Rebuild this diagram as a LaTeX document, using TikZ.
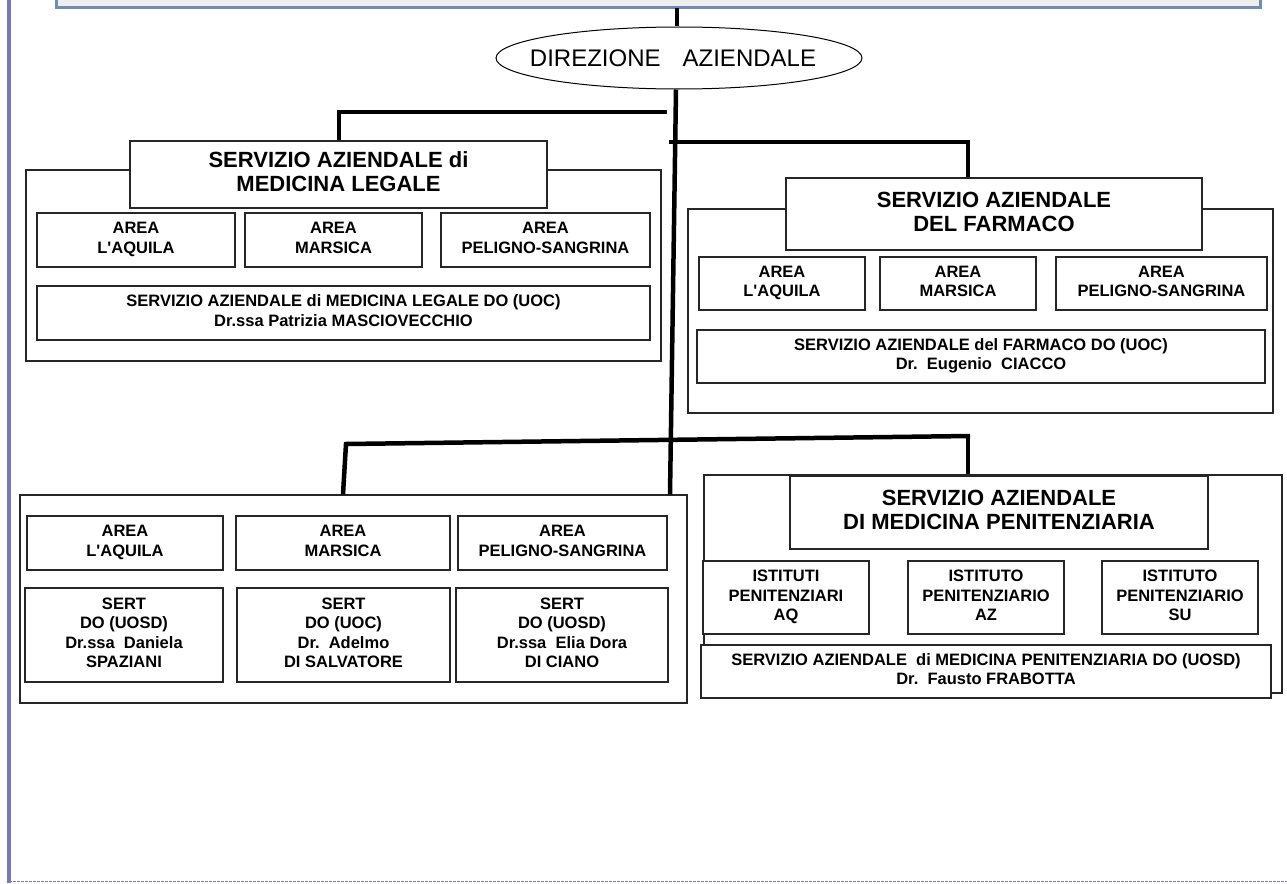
\documentclass[tikz,border=0pt]{standalone}
\usepackage{fontspec}
\setmainfont{Liberation Sans}[Ligatures=TeXOff]
\usetikzlibrary{shapes.geometric}
\definecolor{bannerblue}{RGB}{110,140,180}
\definecolor{bannerfill}{RGB}{238,238,238}
\definecolor{leftbar}{RGB}{120,120,185}
\newcommand\smstrut{\rule[-4.5pt]{0pt}{19.5pt}}
\newcommand\hdstrut{\rule[-5pt]{0pt}{24pt}}
\tikzset{
  bx/.style={draw=black!85, fill=white, line width=1.3pt, align=center, inner sep=0pt},
  sm/.style={bx, font=\fontsize{16.5}{19.5}\selectfont\bfseries,
             execute at begin node=\smstrut, execute at end node=\smstrut},
  hd/.style={bx, font=\fontsize{22}{24}\selectfont\bfseries,
             execute at begin node=\hdstrut, execute at end node=\hdstrut},
  outer/.style={bx},
  conn/.style={draw=black, line width=4.5pt},
}
\begin{document}
\begin{tikzpicture}[x=1pt,y=-1pt]
\useasboundingbox (0,0) rectangle (1287,883);
% frame decorations
\fill[white] (0,0) rectangle (1287,883);
\draw[fill=bannerfill, draw=bannerblue, line width=3pt] (56,-10) rectangle (1260,8);
\draw[leftbar, line width=4.5pt] (9,0) -- (9,883);
\draw[leftbar, line width=1.2pt, dash pattern=on 3pt off 1pt] (9,881.5) -- (1287,881.5);

% direzione
\node[draw, ellipse, line width=1pt, minimum width=366pt, minimum height=62pt,
      inner xsep=-40pt, inner ysep=0pt,
      font=\fontsize{24}{28}\selectfont] (dir) at (679,58) {\hspace*{-12pt}DIREZIONE\hspace{22pt}AZIENDALE};

% Medicina legale
\node[outer, minimum width=635pt, minimum height=191pt] (mlOuter) at (343.5,265.5) {};
\node[hd, minimum width=417pt, minimum height=67pt] (mlHead) at (338.5,174.5) {SERVIZIO AZIENDALE di\\MEDICINA LEGALE};
\node[sm, minimum width=198pt, minimum height=54pt] (mlA1) at (136,240) {AREA\\L'AQUILA};
\node[sm, minimum width=177pt, minimum height=54pt] (mlA2) at (333.5,240) {AREA\\MARSICA};
\node[sm, minimum width=209pt, minimum height=54pt] (mlA3) at (545.5,240) {AREA\\PELIGNO-SANGRINA};
\node[sm, minimum width=613pt, minimum height=54pt] (mlDir) at (343.5,313) {SERVIZIO AZIENDALE di MEDICINA LEGALE DO (UOC)\\Dr.ssa Patrizia MASCIOVECCHIO};

% Farmaco
\node[outer, minimum width=585pt, minimum height=204pt] (fOuter) at (980.5,311) {};
\node[hd, minimum width=416pt, minimum height=72pt] (fHead) at (994,214) {SERVIZIO AZIENDALE\\DEL FARMACO};
\node[sm, minimum width=166pt, minimum height=53pt] (fA1) at (782,283.5) {AREA\\L'AQUILA};
\node[sm, minimum width=156pt, minimum height=53pt] (fA2) at (958,283.5) {AREA\\MARSICA};
\node[sm, minimum width=211pt, minimum height=53pt] (fA3) at (1161.5,283.5) {AREA\\PELIGNO-SANGRINA};
\node[sm, minimum width=568pt, minimum height=53pt] (fDir) at (981,356.5) {SERVIZIO AZIENDALE del FARMACO DO (UOC)\\Dr.\ \ Eugenio\ \ CIACCO};

% SERT
\node[outer, minimum width=667pt, minimum height=208pt] (sOuter) at (353.5,599) {};
\node[sm, minimum width=196pt, minimum height=54pt] (sA1) at (125,543) {AREA\\L'AQUILA};
\node[sm, minimum width=214pt, minimum height=54pt] (sA2) at (343,543) {AREA\\MARSICA};
\node[sm, minimum width=209pt, minimum height=54pt] (sA3) at (562.5,543) {AREA\\PELIGNO-SANGRINA};
\node[sm, minimum width=198pt, minimum height=94pt] (sS1) at (124,635) {SERT\\DO (UOSD)\\Dr.ssa\ \ Daniela\\SPAZIANI};
\node[sm, minimum width=213pt, minimum height=94pt] (sS2) at (343.5,635) {SERT\\DO (UOC)\\Dr.\ \ Adelmo\\DI SALVATORE};
\node[sm, minimum width=212pt, minimum height=94pt] (sS3) at (562,635) {SERT\\DO (UOSD)\\Dr.ssa\ \ Elia Dora\\DI CIANO};

% Penitenziaria
\node[outer, minimum width=578pt, minimum height=218pt] (pOuter) at (993,584) {};
\node[hd, minimum width=418pt, minimum height=73pt] (pHead) at (999,512.5) {SERVIZIO AZIENDALE\\DI MEDICINA PENITENZIARIA};
\node[sm, minimum width=166pt, minimum height=73pt] (pI1) at (786,597.5) {ISTITUTI\\PENITENZIARI\\AQ};
\node[sm, minimum width=156pt, minimum height=73pt] (pI2) at (986,597.5) {ISTITUTO\\PENITENZIARIO\\AZ};
\node[sm, minimum width=156pt, minimum height=73pt] (pI3) at (1180,597.5) {ISTITUTO\\PENITENZIARIO\\SU};
\node[sm, minimum width=570pt, minimum height=53pt] (pDir) at (986,671.5) {SERVIZIO AZIENDALE\ \ di MEDICINA PENITENZIARIA DO (UOSD)\\Dr.\ \ Fausto FRABOTTA};

% connectors
\coordinate (bannerB) at (677,8);
\coordinate (b1L) at (339,112);
\coordinate (b1R) at (667,112);
\coordinate (b2L) at (669,142);
\coordinate (b2R) at (968,142);
\coordinate (b3L) at (346,444);
\coordinate (b3R) at (970,436);
\draw[conn] (bannerB) -- (bannerB |- dir.north);
\draw[conn] ([xshift=-3pt]dir.south) -- ([xshift=316.5pt]sOuter.north);
\draw[conn] (b1R) -- (b1L) -- (b1L |- mlHead.north);
\draw[conn] (b2L) -- (b2R) -- (b2R |- fHead.north);
\draw[conn] ([xshift=-10.5pt]sOuter.north) -- (b3L) -- (b3R);
\draw[conn] ([xshift=-2pt]b3R) -- ([xshift=-2pt]b3R |- pOuter.north);
\end{tikzpicture}
\end{document}
